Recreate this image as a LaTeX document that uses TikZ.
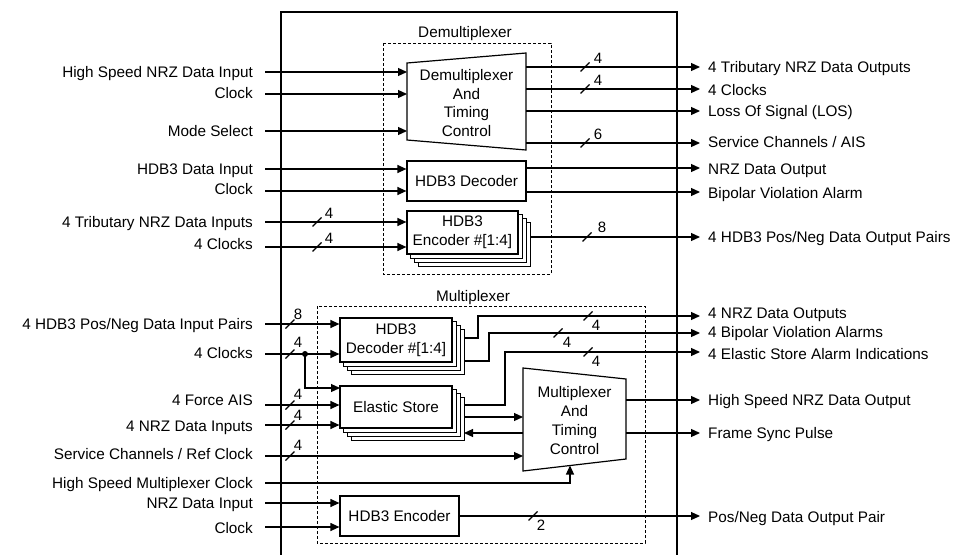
\documentclass[tikz,border=0pt]{standalone}
\usepackage{fontspec}
\setmainfont{Liberation Sans}
\usetikzlibrary{arrows.meta,calc}
\pgfdeclarelayer{bg}
\pgfsetlayers{bg,main}
\newcommand{\busm}[5]{%
  \draw[slashln] ({#1-4.5},{#2+4.5}) -- ({#1+4.5},{#2-4.5});
  \node[buslbl] (b#1x#2) at ({#1+#4},{#2+#5}) {#3};}
\begin{document}
\begin{tikzpicture}[x=1pt,y=-1pt,
  line width=1.2pt,
  lbl/.style={font=\fontsize{15.3}{18.6}\selectfont, inner sep=0pt, text height=13pt, text depth=2pt},
  box/.style={draw, fill=white, line width=1.2pt, inner sep=0pt, align=center, font=\fontsize{15.3}{18.8}\selectfont},
  mtxt/.style={inner sep=0pt, align=center, font=\fontsize{15.3}{18.7}\selectfont},
  sig/.style={line width=1.2pt, -{Triangle[length=9pt,width=8pt]}},
  wire/.style={line width=1.2pt},
  grp/.style={draw, line width=1pt, dash pattern=on 3pt off 2pt},
  slashln/.style={line width=1.1pt},
  buslbl/.style={font=\fontsize{15}{16}\selectfont, inner sep=0pt},
  dot/.style={circle, fill, inner sep=0pt, minimum size=6pt},
]
\useasboundingbox (0,0) rectangle (955,554);

% outer frame
\draw[wire] (281,565) -- (281,12) -- (677,12) -- (677,565);

% group boxes
\draw[grp] (383,43) rectangle (551,274);
\draw[grp] (317,306) rectangle (645,543);
\node[lbl] (gD) at (465,32) {Demultiplexer};
\node[lbl] (gM) at (473,296) {Multiplexer};

% ---------- Demultiplexer blocks ----------
\coordinate (d1) at (407,63);
\coordinate (d2) at (526,53);
\coordinate (d3) at (526,150);
\coordinate (d4) at (407,140);
\draw[wire] (d1) -- (d2) -- (d3) -- (d4) -- cycle;
\node[mtxt] (dmx) at (466.5,103) {Demultiplexer\\And\\Timing\\Control};

\node[box, minimum width=119pt, minimum height=40pt] (hdec) at (466.5,181) {HDB3 Decoder};
\node[box, minimum width=111pt, minimum height=43pt] (henc) at (462.5,232.5) {HDB3\\Encoder \#[1:4]};

% ---------- Multiplexer blocks ----------
\node[box, minimum width=112pt, minimum height=44pt] (mdec) at (396,340) {HDB3\\Decoder \#[1:4]};
\node[box, minimum width=112pt, minimum height=42pt] (es) at (396,407) {Elastic Store};
\node[box, minimum width=119pt, minimum height=40pt] (menc) at (399.5,516) {HDB3 Encoder};

\coordinate (m1) at (523,368);
\coordinate (m2) at (626,379);
\coordinate (m3) at (626,459);
\coordinate (m4) at (523,471);
\draw[wire] (m1) -- (m2) -- (m3) -- (m4) -- cycle;
\node[mtxt] (mmx) at (574.5,420.5) {Multiplexer\\And\\Timing\\Control};

% stacked copies
\begin{pgfonlayer}{bg}
\foreach \s in {12,8,4}{
  \draw[wire, fill=white] ($(henc.south west)+(\s,\s)$) rectangle ($(henc.north east)+(\s,\s)$);
  \draw[wire, fill=white] ($(mdec.south west)+(\s,\s)$) rectangle ($(mdec.north east)+(\s,\s)$);
  \draw[wire, fill=white] ($(es.south west)+(\s,\s)$) rectangle ($(es.north east)+(\s,\s)$);
}
\end{pgfonlayer}

% ---------- left labels ----------
\node[lbl, anchor=east] (tA) at (253,72) {High Speed NRZ Data Input};
\node[lbl, anchor=east] (tB) at (253,93) {Clock};
\node[lbl, anchor=east] (tC) at (253,131) {Mode Select};
\node[lbl, anchor=east] (tD) at (253,169) {HDB3 Data Input};
\node[lbl, anchor=east] (tE) at (253,189) {Clock};
\node[lbl, anchor=east] (tF) at (253,222) {4 Tributary NRZ Data Inputs};
\node[lbl, anchor=east] (tG) at (253,244) {4 Clocks};
\node[lbl, anchor=east] (tH) at (253,324) {4 HDB3 Pos/Neg Data Input Pairs};
\node[lbl, anchor=east] (tI) at (253,353) {4 Clocks};
\node[lbl, anchor=east] (tJ) at (253,400) {4 Force AIS};
\node[lbl, anchor=east] (tK) at (253,426) {4 NRZ Data Inputs};
\node[lbl, anchor=east] (tL) at (253,454) {Service Channels / Ref Clock};
\node[lbl, anchor=east] (tM) at (253,483) {High Speed Multiplexer Clock};
\node[lbl, anchor=east] (tN) at (253,503) {NRZ Data Input};
\node[lbl, anchor=east] (tO) at (253,528) {Clock};

% ---------- right labels ----------
\node[lbl, anchor=west] (rA) at (708,67) {4 Tributary NRZ Data Outputs};
\node[lbl, anchor=west] (rB) at (708,90) {4 Clocks};
\node[lbl, anchor=west] (rC) at (708,111) {Loss Of Signal (LOS)};
\node[lbl, anchor=west] (rD) at (708,142) {Service Channels / AIS};
\node[lbl, anchor=west] (rE) at (708,169) {NRZ Data Output};
\node[lbl, anchor=west] (rF) at (708,193) {Bipolar Violation Alarm};
\node[lbl, anchor=west] (rG) at (708,237) {4 HDB3 Pos/Neg Data Output Pairs};
\node[lbl, anchor=west] (rH) at (708,313) {4 NRZ Data Outputs};
\node[lbl, anchor=west] (rI) at (708,332) {4 Bipolar Violation Alarms};
\node[lbl, anchor=west] (rJ) at (708,354) {4 Elastic Store Alarm Indications};
\node[lbl, anchor=west] (rK) at (708,400) {High Speed NRZ Data Output};
\node[lbl, anchor=west] (rL) at (708,433) {Frame Sync Pulse};
\node[lbl, anchor=west] (rM) at (708,517) {Pos/Neg Data Output Pair};

% ---------- input wire ends ----------
\coordinate (iA) at (265,72);
\coordinate (iB) at (265,94);
\coordinate (iC) at (265,131);
\coordinate (iD) at (265,169);
\coordinate (iE) at (265,191);
\coordinate (iF) at (265,222);
\coordinate (iG) at (265,247);
\coordinate (iH) at (265,324);
\coordinate (iI) at (265,354);
\coordinate (iJ) at (265,405);
\coordinate (iK) at (265,425);
\coordinate (iL) at (265,456);
\coordinate (iM) at (265,483);
\coordinate (iN) at (265,503);
\coordinate (iO) at (265,527);

% ---------- output wire ends ----------
\coordinate (oA) at (700,67);
\coordinate (oB) at (700,89);
\coordinate (oC) at (700,111);
\coordinate (oD) at (700,143);
\coordinate (oE) at (700,168);
\coordinate (oF) at (700,192);
\coordinate (oG) at (700,237);
\coordinate (oH) at (700,316);
\coordinate (oI) at (700,333);
\coordinate (oJ) at (700,352);
\coordinate (oK) at (700,400);
\coordinate (oL) at (700,433);
\coordinate (oM) at (700,516);

% ---------- demux connectors ----------
\draw[sig] (iA) -- (d1 |- iA);
\draw[sig] (iB) -- (d1 |- iB);
\draw[sig] (iC) -- (d1 |- iC);
\draw[sig] (iD) -- (hdec.west |- iD);
\draw[sig] (iE) -- (hdec.west |- iE);
\draw[sig] (iF) -- (henc.west |- iF);
\draw[sig] (iG) -- (henc.west |- iG);
\draw[sig] (d2 |- oA) -- (oA);
\draw[sig] (d2 |- oB) -- (oB);
\draw[sig] (d2 |- oC) -- (oC);
\draw[sig] (d2 |- oD) -- (oD);
\draw[sig] (hdec.east |- oE) -- (oE);
\draw[sig] (hdec.east |- oF) -- (oF);
\coordinate (hencR) at ($(henc.east)+(12,0)$);
\draw[sig] (hencR |- oG) -- (oG);

% ---------- mux connectors ----------
\node[dot] (jn) at (305,354) {};
\coordinate (esA) at (340,388);
\draw[sig] (iH) -- (mdec.west |- iH);
\draw[sig] (iI) -- (mdec.west |- iI);
\draw[sig] (jn.center) |- (esA);
\draw[sig] (iJ) -- (es.west |- iJ);
\draw[sig] (iK) -- (es.west |- iK);
\draw[sig] (iL) -- (m1 |- iL);
\coordinate (mclk) at (570,465.5);
\draw[sig] (iM) -| (mclk);
\draw[sig] (iN) -- (menc.west |- iN);
\draw[sig] (iO) -- (menc.west |- iO);

\coordinate (mdo1) at (464,338);
\coordinate (mdo2) at (464,361);
\coordinate (eso1) at (464,405);
\coordinate (eso2) at (464,417);
\coordinate (esb) at (464,433);
\draw[sig] (mdo1) -- ++(14,0) |- (oH);
\draw[sig] (mdo2) -- ++(25,0) |- (oI);
\draw[sig] (eso1) -- ++(41,0) |- (oJ);
\draw[sig] (eso2) -- (m1 |- eso2);
\draw[sig] (m1 |- esb) -- (esb);
\draw[sig] (m2 |- oK) -- (oK);
\draw[sig] (m2 |- oL) -- (oL);
\draw[sig] (menc.east |- oM) -- (oM);

% ---------- bus marks ----------
\busm{585}{67}{4}{13}{-9}
\busm{585}{89}{4}{13}{-9}
\busm{585}{143}{6}{13}{-9}
\busm{587}{237}{8}{15}{-10}
\busm{317}{222}{4}{12}{-9}
\busm{317}{247}{4}{12}{-9}
\busm{290}{324}{8}{8}{-10}
\busm{290}{354}{4}{8}{-12}
\busm{290}{405}{4}{8}{-11}
\busm{290}{425}{4}{8}{-10}
\busm{290}{456}{4}{8}{-11}
\busm{588}{316}{4}{8}{9}
\busm{558}{333}{4}{9}{9}
\busm{588}{352}{4}{8}{9}
\busm{533}{516}{2}{8}{9}
\end{tikzpicture}
\end{document}
